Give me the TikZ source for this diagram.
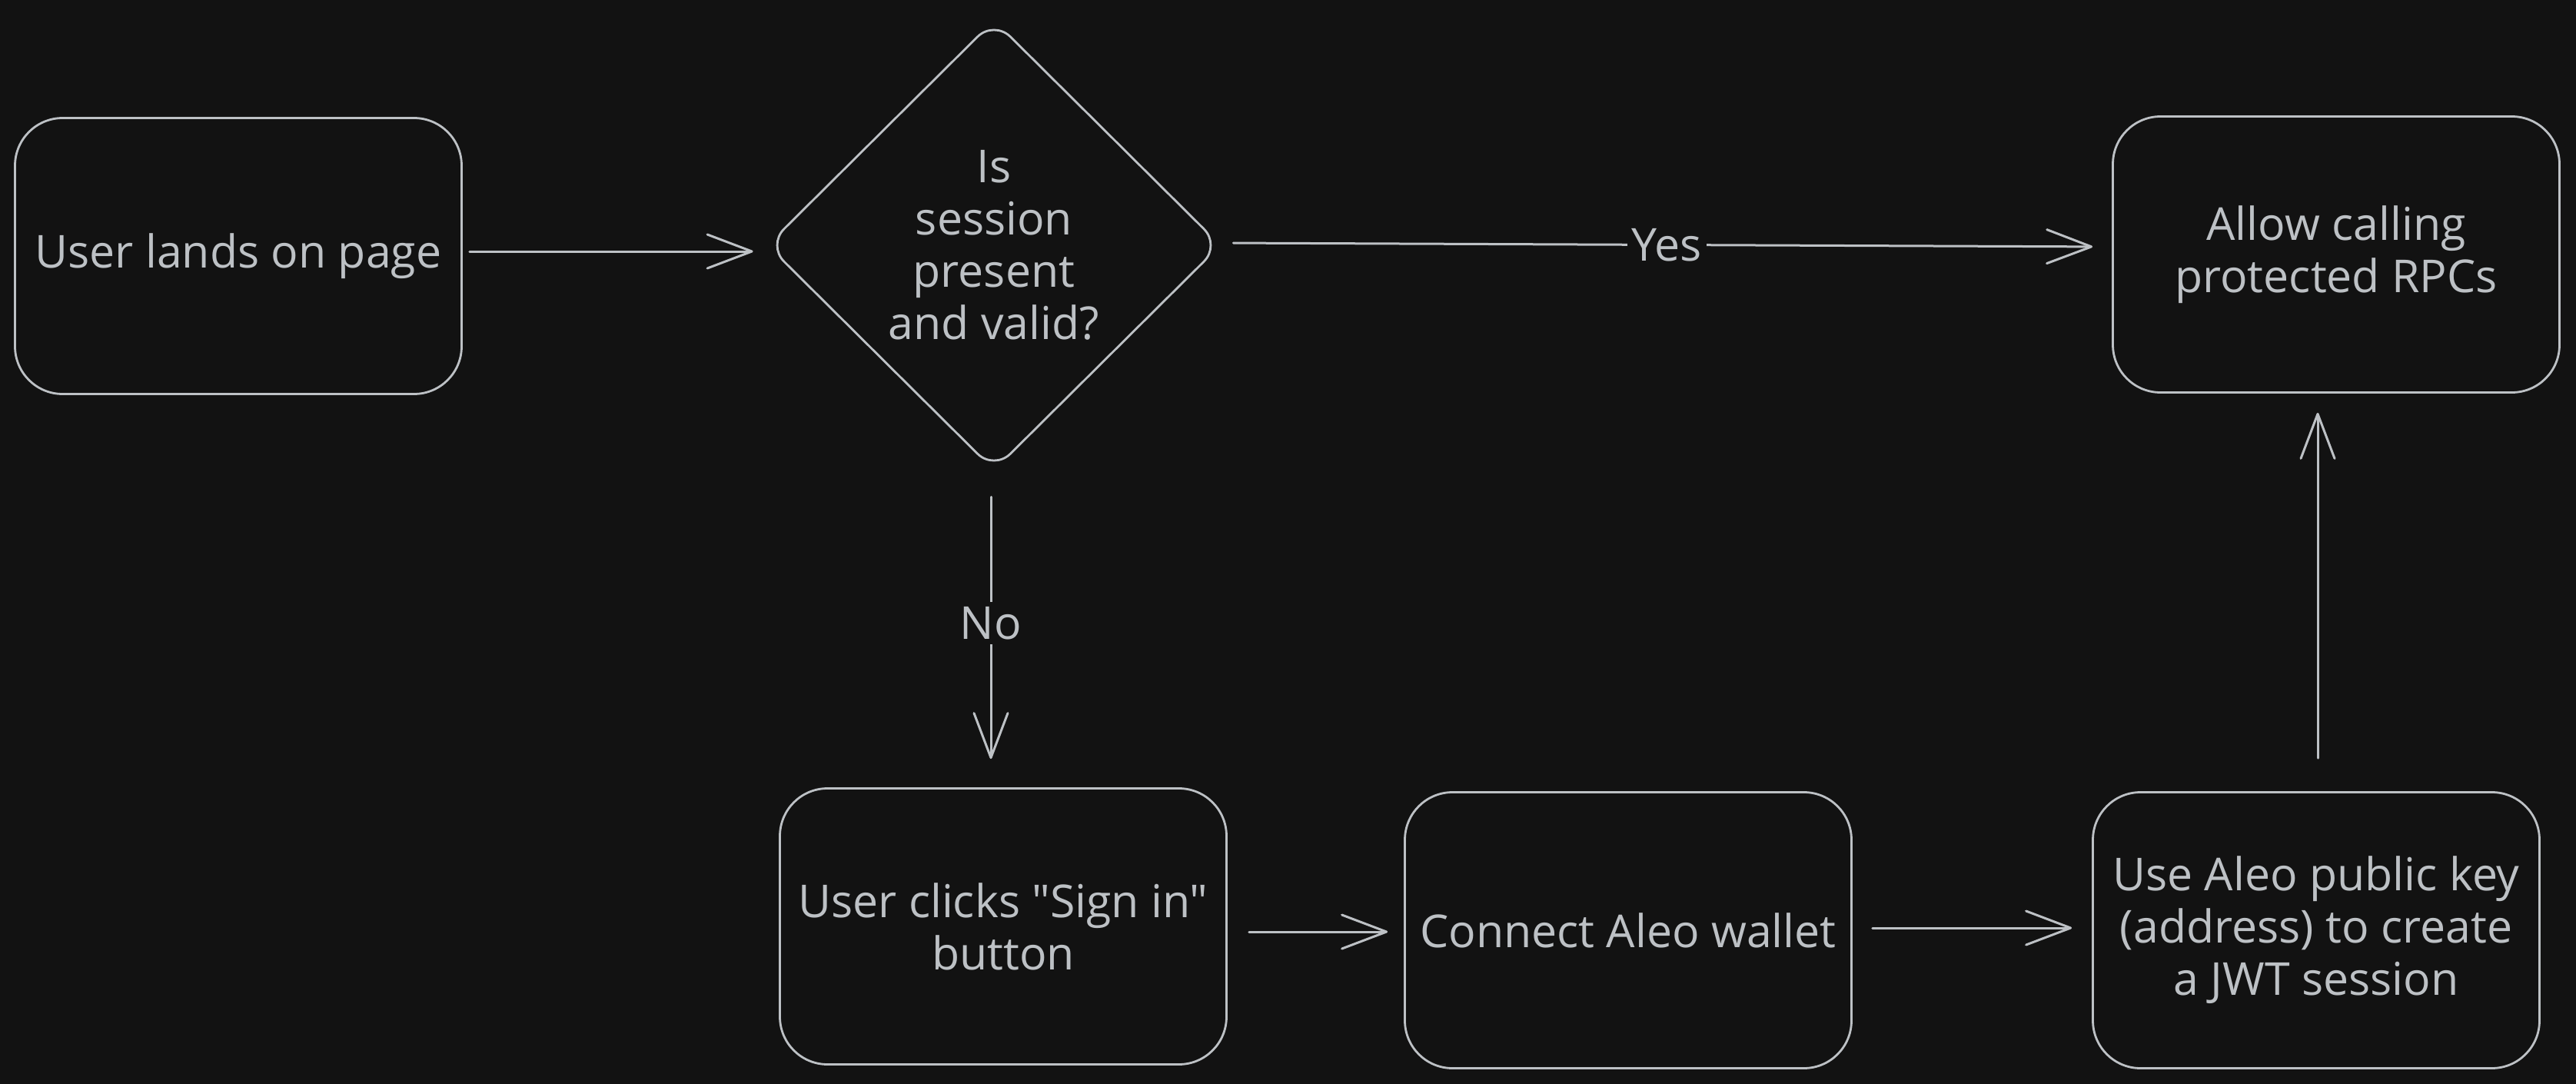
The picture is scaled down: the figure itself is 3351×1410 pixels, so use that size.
\documentclass[tikz,border=0pt]{standalone}
\usepackage{fontspec}
\setmainfont{Open Sans}[Ligatures=TeXOff]
\usetikzlibrary{arrows.meta,shapes.geometric}
\definecolor{bg}{HTML}{121212}
\definecolor{ink}{HTML}{BDC1C5}
\begin{document}
\begin{tikzpicture}[x=1pt,y=-1pt,
  txt/.style={text=ink, align=center, font=\fontsize{59}{68}\selectfont},
  box/.style={txt, draw=ink, line width=2.8pt, rounded corners=62pt,
    minimum width=581pt, minimum height=359pt, inner sep=0pt},
  decision/.style={txt, draw=ink, line width=2.8pt, diamond, rounded corners=30pt,
    minimum width=590pt, minimum height=586pt, inner sep=0pt},
  arr/.style={draw=ink, line width=3pt, line cap=round,
    -{Straight Barb[length=58pt,width=44pt,round]}},
  lab/.style={txt, fill=bg, inner sep=6pt}]
\fill[bg] (0,0) rectangle (3351,1410);
\useasboundingbox (0,0) rectangle (3351,1410);

\node[box] (land) at (310,333) {User lands on page};
\node[decision] (dec) at (1293,319) {Is\\session\\present\\and valid?};
\node[box] (allow) at (3039,331) {Allow calling\\protected RPCs};
\node[box] (sign) at (1305,1205) {User clicks "Sign in"\\button};
\node[box] (conn) at (2118,1210) {Connect Aleo wallet};
\node[box] (jwt) at (3013,1210) {Use Aleo public key\\(address) to create\\a JWT session};

\draw[arr, shorten <=9pt, shorten >=17pt] ([yshift=6pt]land.east) -- ([yshift=-8pt]dec.west);
\draw[arr, shorten <=15pt, shorten >=25pt] ([yshift=3pt]dec.east) -- ([yshift=10pt]allow.west)
  node[lab, pos=0.5] (yes) {Yes};
\draw[arr, shorten <=33pt, shorten >=37pt] ([xshift=-4pt]dec.south) -- ([xshift=-16pt]sign.north)
  node[lab, pos=0.48] (no) {No};
\draw[arr, shorten <=28pt, shorten >=21pt] ([yshift=-7pt]sign.east) -- ([yshift=-2pt]conn.west);
\draw[arr, shorten <=26pt, shorten >=26pt] ([yshift=3pt]conn.east) -- ([yshift=3pt]jwt.west);
\draw[arr, shorten <=43pt, shorten >=25pt] ([xshift=2pt]jwt.north) -- ([xshift=-24pt]allow.south);
\end{tikzpicture}
\end{document}
